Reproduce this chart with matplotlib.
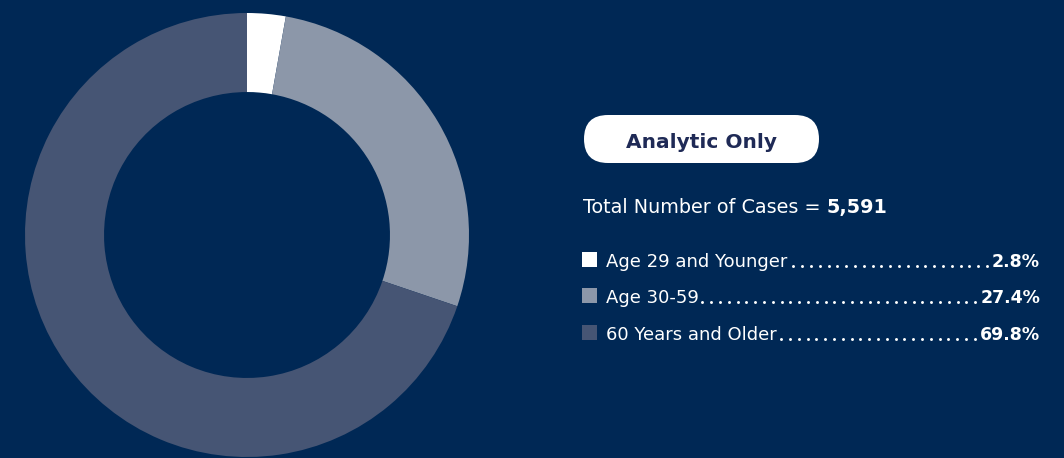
import matplotlib.pyplot as plt
from matplotlib.patches import FancyBboxPatch

# data
labels = ['Age 29 and Younger', 'Age 30-59', '60 Years and Older']
shares = [2.8, 27.4, 69.8]
pct_labels = ['2.8%', '27.4%', '69.8%']
total_cases = '5,591'
title = 'Analytic Only'

BG = '#002855'
colors = ['#ffffff', '#8c97a9', '#465574']
FONT = 'DejaVu Sans'

W, H = 1064, 458
fig = plt.figure(figsize=(W / 100, H / 100), dpi=100)
fig.patch.set_facecolor(BG)

# donut, centre at (247, 235) px, outer radius 222 px
cx, cy, r = 247, 235, 222
ax = fig.add_axes([(cx - r) / W, (H - cy - r) / H, 2 * r / W, 2 * r / H])
ax.set_facecolor(BG)
ax.pie(shares, colors=colors, startangle=90, counterclock=False,
       wedgeprops=dict(width=0.356, linewidth=0))
ax.set_xlim(-1, 1)
ax.set_ylim(-1, 1)
ax.axis('off')

# right-hand side drawn in pixel coords (y pointing down)
tx = fig.add_axes([0, 0, 1, 1])
tx.set_xlim(0, W)
tx.set_ylim(H, 0)
tx.axis('off')

# title pill
pill = FancyBboxPatch((608, 139), 187, 0, boxstyle='round,pad=24,rounding_size=24',
                      facecolor='white', edgecolor='none')
tx.add_patch(pill)
tx.text(701.5, 148, title, ha='center', va='baseline', fontsize=14.5,
        fontweight='bold', color='#1f2a56', family=FONT)

fig.canvas.draw()
rend = fig.canvas.get_renderer()
inv = tx.transData.inverted()


def right_edge(t):
    bb = t.get_window_extent(rend)
    return inv.transform((bb.x1, bb.y0))[0]


def left_edge(t):
    bb = t.get_window_extent(rend)
    return inv.transform((bb.x0, bb.y0))[0]


t0 = tx.text(583, 213, 'Total Number of Cases = ', ha='left', va='baseline',
             fontsize=13.8, color='white', family=FONT)
tx.text(right_edge(t0), 213, total_cases, ha='left', va='baseline',
        fontsize=13.8, fontweight='bold', color='white', family=FONT)

# legend rows with dot leaders
baselines = [267, 303, 340]
right_x = 1040
dot_step = 8.8
for lab, pct, c, y in zip(labels, pct_labels, colors, baselines):
    tx.add_patch(plt.Rectangle((582, y - 15), 15, 15, facecolor=c, edgecolor='none'))
    lt = tx.text(606, y, lab, ha='left', va='baseline', fontsize=13,
                 color='white', family=FONT)
    pt = tx.text(right_x, y, pct, ha='right', va='baseline', fontsize=12.5,
                 fontweight='bold', color='white', family=FONT)
    x_start = right_edge(lt) + 1
    x_end = left_edge(pt) - 5
    xs = []
    x = x_end
    while x >= x_start:
        xs.append(x)
        x -= dot_step
    tx.plot(xs, [y - 1] * len(xs), linestyle='none', marker='o',
            markersize=2.1, color='white', markeredgewidth=0)

fig.savefig('out.png', dpi=100, facecolor=BG)
